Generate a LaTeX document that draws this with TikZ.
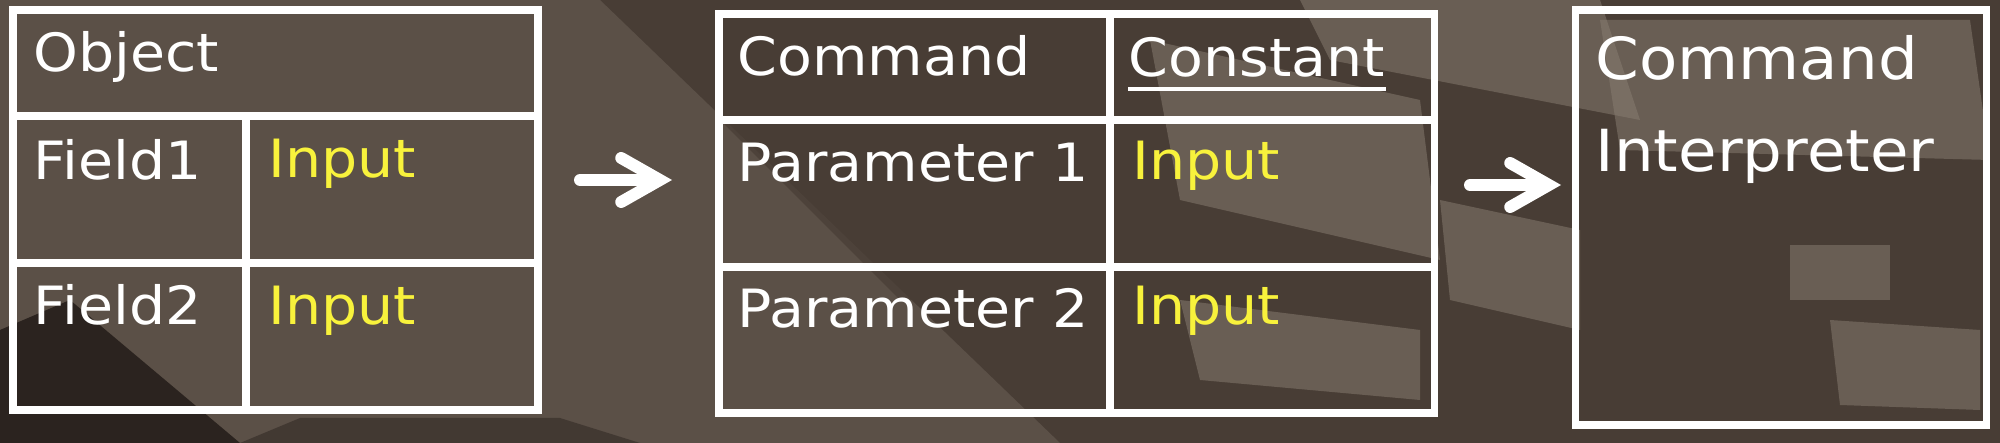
\documentclass[tikz,border=0pt]{standalone}
\usepackage{fontspec}
\setmainfont{DejaVu Sans}[FakeStretch=1.08]
\usetikzlibrary{arrows.meta}
\definecolor{woodbg}{HTML}{483D35}
\definecolor{woodmid}{HTML}{5B5047}
\definecolor{wooddark}{HTML}{2B231F}
\definecolor{woodlight}{HTML}{8A7F73}
\definecolor{inputyellow}{HTML}{F8F23C}
\tikzset{
	gridline/.style={draw=white, line width=2pt},
	lbl/.style={anchor=base west, inner sep=0pt, text=white, font=\fontsize{15}{18}\selectfont},
	biglbl/.style={lbl, font=\fontsize{16.5}{19}\selectfont},
	inp/.style={lbl, text=inputyellow},
	uline/.style={white, line width=0.9pt},
	bigarrow/.style={white, line width=3.4pt, line cap=round, -{Straight Barb[length=11pt,width=12.5pt,line cap=round]}},
}
\begin{document}
\begin{tikzpicture}[x=0.01cm, y=-0.01cm]
	\useasboundingbox (0,0) rectangle (2000,443);
	% wood background
	\fill[woodbg] (0,0) rectangle (2000,443);
	\fill[woodmid] (0,0)--(600,0)--(1060,443)--(0,443)--cycle;
	\fill[wooddark] (0,330)--(70,300)--(240,443)--(0,443)--cycle;
	\fill[wooddark, opacity=.5] (240,443)--(300,418)--(560,418)--(640,443)--cycle;
	\fill[woodbg, opacity=.7] (720,20)--(980,20)--(1100,120)--(1100,300)--(900,300)--(720,120)--cycle;
	\begin{scope}[fill opacity=.5]
		\fill[woodlight] (1150,40)--(1420,100)--(1440,260)--(1180,200)--cycle;
		\fill[woodlight] (1300,0)--(1600,0)--(1640,120)--(1330,60)--cycle;
		\fill[woodlight] (1440,200)--(1580,230)--(1580,330)--(1450,300)--cycle;
		\fill[woodlight] (1600,20)--(1970,20)--(1990,160)--(1620,150)--cycle;
		\fill[woodlight] (1790,245)--(1890,245)--(1890,300)--(1790,300)--cycle;
		\fill[woodlight] (1830,320)--(1980,330)--(1980,410)--(1840,405)--cycle;
		\fill[woodlight] (1180,300)--(1420,330)--(1420,400)--(1200,380)--cycle;
	\end{scope}
	% table 1
	\draw[gridline] (13,10) rectangle (538,410);
	\foreach \y in {116,263}
	\draw[gridline] (13,\y)--(538,\y);
	\draw[gridline] (246,116)--(246,410);
	\node[lbl] (obj) at (33,72) {Object};
	\node[lbl] (fld1) at (33,180) {Field1};
	\node[lbl] (fld2) at (33,325) {Field2};
	\foreach \n/\y in {inp1/178,inp2/325}
	\node[inp] (\n) at (268,\y) {Input};
	% table 2
	\draw[gridline] (719,14) rectangle (1434,413);
	\foreach \y in {120,267}
	\draw[gridline] (719,\y)--(1434,\y);
	\draw[gridline] (1110,14)--(1110,413);
	\node[lbl] (cmd) at (737,76) {Command};
	\node[lbl] (cons) at (1128,77) {Constant};
	\draw[uline] ([yshift=-3.4pt]cons.base west)--([yshift=-3.4pt]cons.base east);
	\node[lbl] (par1) at (737,182) {Parameter 1};
	\node[lbl] (par2) at (737,328) {Parameter 2};
	\foreach \n/\y in {inp3/180,inp4/325}
	\node[inp] (\n) at (1132,\y) {Input};
	% table 3
	\draw[gridline] (1575,10) rectangle (1986,425);
	\node[biglbl] (cmdi) at (1595,80) {Command};
	\node[biglbl] (intp) at (1595,172) {Interpreter};
	% arrows
	\coordinate (a1s) at (580,180);
	\coordinate (a1e) at (672,180);
	\coordinate (a2s) at (1470,185);
	\coordinate (a2e) at (1561,185);
	\draw[bigarrow] (a1s)--(a1e);
	\draw[bigarrow] (a2s)--(a2e);
\end{tikzpicture}
\end{document}
